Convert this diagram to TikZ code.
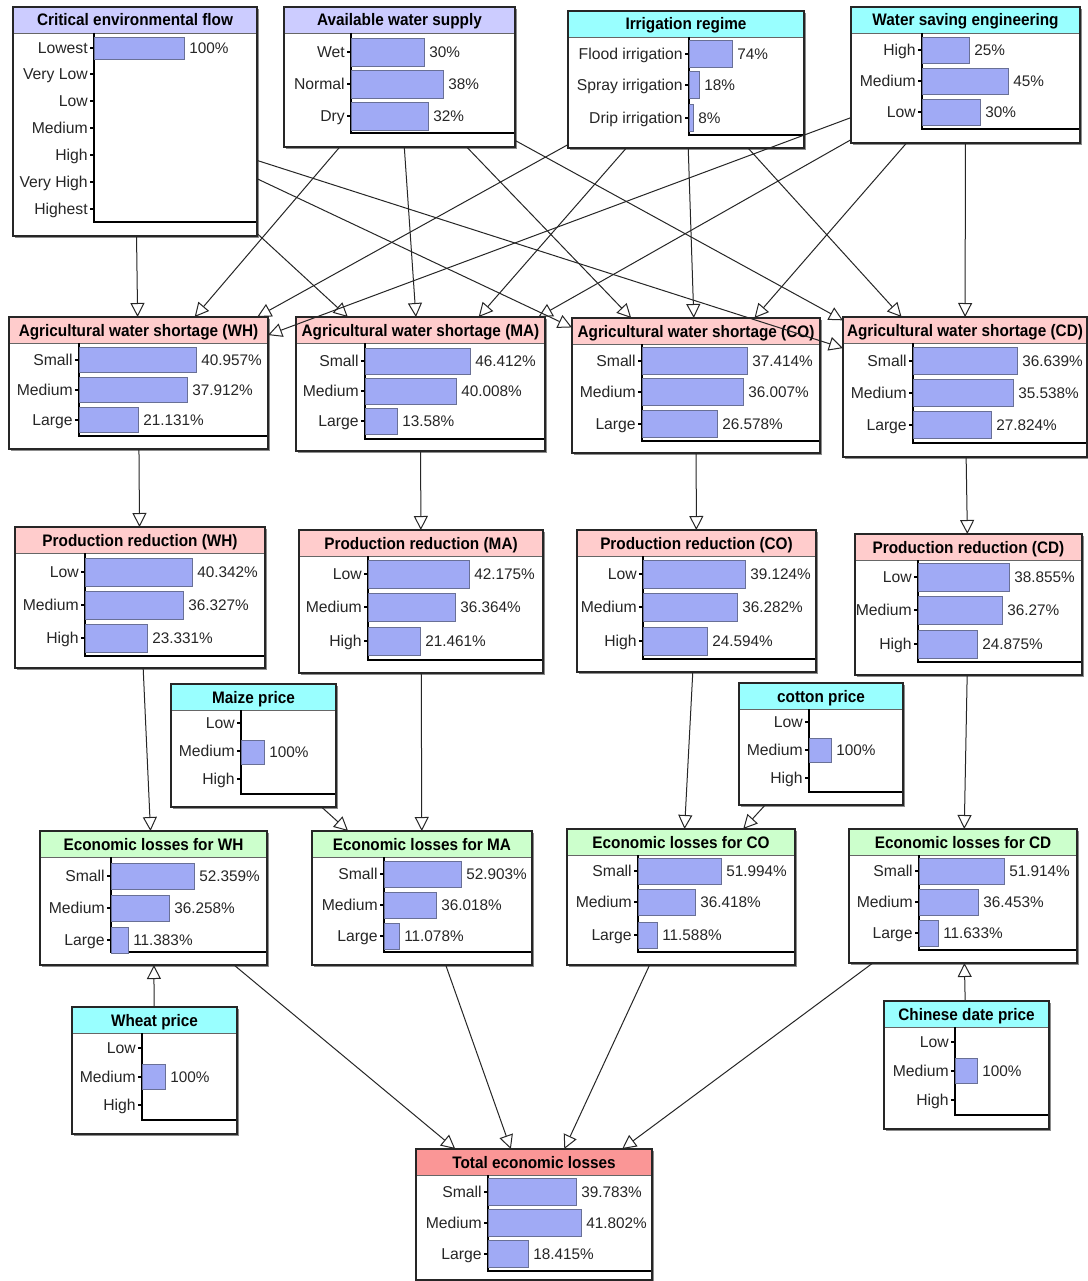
\documentclass[tikz,border=0pt]{standalone}
\usepackage{fontspec}
\setmainfont{Liberation Sans}
\newfontfamily\hdrfont[FakeStretch=0.92]{Liberation Sans}
\usepackage{tikz}
\usetikzlibrary{arrows.meta, fit, shadows}

\definecolor{hdrlav}{RGB}{204,204,255}
\definecolor{hdrcyan}{RGB}{153,255,255}
\definecolor{hdrpink}{RGB}{255,204,204}
\definecolor{hdrgreen}{RGB}{204,255,204}
\definecolor{hdrred}{RGB}{250,150,150}
\definecolor{barfill}{RGB}{160,170,245}
\definecolor{barline}{RGB}{105,112,150}

\tikzstyle{netbox} = [draw=black!85, fill=white, inner sep=0pt, outer sep=0pt, line width=0.9pt, drop shadow={shadow xshift=1.5pt, shadow yshift=-1.5pt, opacity=0.45, fill=black}]
\tikzstyle{boxline} = [draw=black!85, line width=0.9pt]
\tikzstyle{hdr} = [font=\fontsize{12.5}{14}\hdrfont\bfseries, inner sep=0pt, text height=9pt, text depth=0pt]
\tikzstyle{state} = [anchor=east, font=\fontsize{11.8}{13}\selectfont, inner sep=0pt, text height=8.4pt, text depth=0pt, text=black!85]
\tikzstyle{pct} = [anchor=west, font=\fontsize{11.5}{13}\selectfont, inner sep=0pt, text height=8.2pt, text depth=0pt, text=black!85]
\tikzstyle{arrow} = [draw=black!85, line width=0.75pt, -{Triangle[open, width=10.5pt, length=10.5pt]}]

% box with coloured title bar and chart frame
% #1 name, #2-#5 corners, #6 colour, #7 title, #8 chart x, #9 chart bottom
\newcommand{\bnnode}[9]{%
  \node[netbox, fit={(#2,#3) (#4,#5)}] (#1) {};
  \fill[#6] (#2,#3) rectangle (#4,#3+26);
  \draw[black!60] (#2,#3+26) -- (#4,#3+26);
  \node[hdr] at ({(#2+#4)/2},#3+13) {#7};
  \draw[chart] (#8,#3+26) -- (#8,#9) -- (#4,#9);
  \draw[boxline] (#1.north west) rectangle (#1.south east);
}
% state names with ticks
\newcommand{\bnstates}[2]{%
  \foreach \lab/\yy in {#2}{
    \draw[chart] (#1-4,\yy) -- (#1,\yy);
    \node[state] at (#1-6,\yy) {\lab};
  }
}
% belief bars
\newcommand{\bnbars}[3]{%
  \foreach \yy/\xr/\pc in {#3}{
    \draw[barbox] (#1,\yy-#2/2) rectangle (\xr,\yy+#2/2);
    \node[pct] at (\xr+5,\yy) {\pc};
  }
}

\begin{document}
\begin{tikzpicture}[
    x=0.75pt, y=-0.75pt,
    chart/.style={draw=black, line width=0.8pt},
    barbox/.style={draw=barline, fill=barfill, line width=0.7pt}
]
\fill[white] (0,0) rectangle (1088,1281);

% Inputs
\bnnode{cef}{13}{7}{257}{236}{hdrlav}{Critical environmental flow}{94}{222}
\bnbars{94}{22}{48/184/100\%}
\bnstates{94}{Lowest/48, Very Low/74, Low/101, Medium/128, High/155, Very High/182, Highest/209}

\bnnode{aws}{284}{7}{515}{147}{hdrlav}{Available water supply}{351}{133}
\bnbars{351}{28}{52/424/30\%, 84/443/38\%, 116/428/32\%}
\bnstates{351}{Wet/52, Normal/84, Dry/116}

\bnnode{ir}{568}{11}{804}{148}{hdrcyan}{Irrigation regime}{689}{135}
\bnbars{689}{27}{54/732/74\%, 85/699/18\%, 118/693/8\%}
\bnstates{689}{Flood irrigation/54, Spray irrigation/85, Drip irrigation/118}

\bnnode{wse}{851}{7}{1080}{143}{hdrcyan}{Water saving engineering}{922}{129}
\bnbars{922}{26}{50/969/25\%, 81/1008/45\%, 112/980/30\%}
\bnstates{922}{High/50, Medium/81, Low/112}

% Water shortage
\bnnode{wh}{9}{317}{268}{449}{hdrpink}{Agricultural water shortage (WH)}{79}{436}
\bnbars{79}{25}{360/196/40.957\%, 390/187/37.912\%, 420/138/21.131\%}
\bnstates{79}{Small/360, Medium/390, Large/420}

\bnnode{ma}{296}{317}{545}{451}{hdrpink}{Agricultural water shortage (MA)}{365}{439}
\bnbars{365}{26}{361/470/46.412\%, 391/456/40.008\%, 421/397/13.58\%}
\bnstates{365}{Small/361, Medium/391, Large/421}

\bnnode{co}{572}{318}{820}{453}{hdrpink}{Agricultural water shortage (CO)}{642}{441}
\bnbars{642}{27}{361/747/37.414\%, 392/743/36.007\%, 424/717/26.578\%}
\bnstates{642}{Small/361, Medium/392, Large/424}

\bnnode{cd}{843}{317}{1087}{457}{hdrpink}{Agricultural water shortage (CD)}{913}{443}
\bnbars{913}{27}{361/1017/36.639\%, 393/1013/35.538\%, 425/991/27.824\%}
\bnstates{913}{Small/361, Medium/393, Large/425}

% Production reduction
\bnnode{prwh}{15}{527}{265}{668}{hdrpink}{Production reduction (WH)}{85}{656}
\bnbars{85}{28}{572/192/40.342\%, 605/183/36.327\%, 638/147/23.331\%}
\bnstates{85}{Low/572, Medium/605, High/638}

\bnnode{prma}{299}{530}{543}{673}{hdrpink}{Production reduction (MA)}{368}{660}
\bnbars{368}{28}{574/469/42.175\%, 607/455/36.364\%, 641/420/21.461\%}
\bnstates{368}{Low/574, Medium/607, High/641}

\bnnode{prco}{577}{530}{816}{672}{hdrpink}{Production reduction (CO)}{643}{659}
\bnbars{643}{28}{574/745/39.124\%, 607/737/36.282\%, 641/707/24.594\%}
\bnstates{643}{Low/574, Medium/607, High/641}

\bnnode{prcd}{855}{534}{1082}{675}{hdrpink}{Production reduction (CD)}{918}{662}
\bnbars{918}{28}{577/1009/38.855\%, 610/1002/36.27\%, 644/977/24.875\%}
\bnstates{918}{Low/577, Medium/610, High/644}

% Prices
\bnnode{mp}{171}{684}{336}{807}{hdrcyan}{Maize price}{241}{794}
\bnbars{241}{24}{752/264/100\%}
\bnstates{241}{Low/723, Medium/751, High/779}

\bnnode{cp}{739}{683}{903}{805}{hdrcyan}{cotton price}{809}{792}
\bnbars{809}{24}{750/831/100\%}
\bnstates{809}{Low/722, Medium/750, High/778}

\bnnode{wp}{72}{1007}{237}{1134}{hdrcyan}{Wheat price}{142}{1120}
\bnbars{142}{25}{1077/165/100\%}
\bnstates{142}{Low/1048, Medium/1077, High/1105}

\bnnode{cdp}{884}{1001}{1049}{1129}{hdrcyan}{Chinese date price}{955}{1115}
\bnbars{955}{25}{1071/977/100\%}
\bnstates{955}{Low/1042, Medium/1071, High/1100}

% Economic losses
\bnnode{elwh}{40}{831}{267}{965}{hdrgreen}{Economic losses for WH}{111}{952}
\bnbars{111}{26}{876/194/52.359\%, 908/169/36.258\%, 940/128/11.383\%}
\bnstates{111}{Small/876, Medium/908, Large/940}

\bnnode{elma}{312}{831}{532}{965}{hdrgreen}{Economic losses for MA}{384}{952}
\bnbars{384}{26}{874/461/52.903\%, 905/436/36.018\%, 936/399/11.078\%}
\bnstates{384}{Small/874, Medium/905, Large/936}

\bnnode{elco}{567}{829}{795}{965}{hdrgreen}{Economic losses for CO}{638}{952}
\bnbars{638}{26}{871/721/51.994\%, 902/695/36.418\%, 935/657/11.588\%}
\bnstates{638}{Small/871, Medium/902, Large/935}

\bnnode{elcd}{849}{829}{1077}{963}{hdrgreen}{Economic losses for CD}{919}{950}
\bnbars{919}{26}{871/1004/51.914\%, 902/978/36.453\%, 933/938/11.633\%}
\bnstates{919}{Small/871, Medium/902, Large/933}

\bnnode{tel}{416}{1149}{652}{1280}{hdrred}{Total economic losses}{488}{1271}
\bnbars{488}{27}{1192/576/39.783\%, 1223/581/41.802\%, 1254/528/18.415\%}
\bnstates{488}{Small/1192, Medium/1223, Large/1254}

% Arrows
\draw [arrow] (cef) -- (wh);
\draw [arrow] (cef) -- (ma);
\draw [arrow] (cef) -- (co);
\draw [arrow] (cef) -- (cd);
\draw [arrow] (aws) -- (wh);
\draw [arrow] (aws) -- (ma);
\draw [arrow] (aws) -- (co);
\draw [arrow] (aws) -- (cd);
\draw [arrow] (ir) -- (wh);
\draw [arrow] (ir) -- (ma);
\draw [arrow] (ir) -- (co);
\draw [arrow] (ir) -- (cd);
\draw [arrow] (wse) -- (wh);
\draw [arrow] (wse) -- (ma);
\draw [arrow] (wse) -- (co);
\draw [arrow] (wse) -- (cd);

\draw [arrow] (wh) -- (prwh);
\draw [arrow] (ma) -- (prma);
\draw [arrow] (co) -- (prco);
\draw [arrow] (cd) -- (prcd);

\draw [arrow] (prwh) -- (elwh);
\draw [arrow] (prma) -- (elma);
\draw [arrow] (prco) -- (elco);
\draw [arrow] (prcd) -- (elcd);
\draw [arrow] (mp) -- (elma);
\draw [arrow] (cp) -- (elco);
\draw [arrow] (wp) -- (elwh);
\draw [arrow] (cdp) -- (elcd);

\draw [arrow] (elwh) -- (tel);
\draw [arrow] (elma) -- (tel);
\draw [arrow] (elco) -- (tel);
\draw [arrow] (elcd) -- (tel);

\end{tikzpicture}
\end{document}
